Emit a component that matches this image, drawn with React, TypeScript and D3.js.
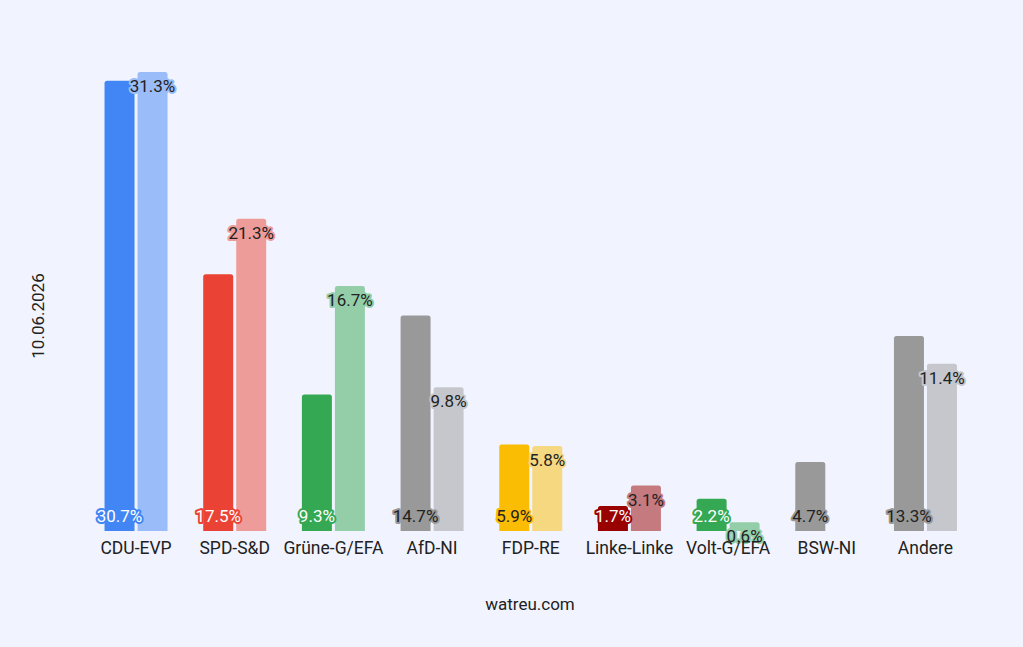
import React from "react";
import * as d3 from "d3";

const categories = ["CDU-EVP", "SPD-S&D", "Grüne-G/EFA", "AfD-NI", "FDP-RE", "Linke-Linke", "Volt-G/EFA", "BSW-NI", "Andere"];
const currentValues: (number | null)[] = [30.7, 17.5, 9.3, 14.7, 5.9, 1.7, 2.2, 4.7, 13.3];
const previousValues: (number | null)[] = [31.3, 21.3, 16.7, 9.8, 5.8, 3.1, 0.6, null, 11.4];
const colors = ["#4285f4", "#ea4335", "#34a853", "#999999", "#fbbc04", "#990000", "#34a853", "#999999", "#999999"];
const lightTextOnCurrent = [true, true, true, false, false, true, true, false, false];
const dateLabel = "10.06.2026";
const sourceLabel = "watreu.com";

const W = 1023;
const H = 647;
const BG = "#f1f4fe";

function blend(c: string, a: number) {
  const col = d3.rgb(c);
  const bg = d3.rgb(BG);
  return d3.rgb(col.r * a + bg.r * (1 - a), col.g * a + bg.g * (1 - a), col.b * a + bg.b * (1 - a)).formatHex();
}

export default function App() {
  const x = d3.scaleBand<string>().domain(categories).range([86.7, 974.8]).paddingInner(0).paddingOuter(0);
  const y = d3.scaleLinear().domain([0, 31.3]).range([531, 72]);
  const barW = 30;
  const gap = 3;
  const font = "Roboto, 'Noto Sans', sans-serif";
  const fmt = (v: number) => v.toFixed(1) + "%";

  return (
    <svg width={W} height={H} style={{ position: "fixed", left: 0, top: 0, background: BG }} fontFamily={font}>
      <rect x={0} y={0} width={W} height={H} fill={BG} />
      {categories.map((c, i) => {
        const cx = (x(c) as number) + x.bandwidth() / 2;
        const cur = currentValues[i];
        const prev = previousValues[i];
        const x1 = cx - gap / 2 - barW;
        const x2 = cx + gap / 2;
        const light = blend(colors[i], 0.5);
        return (
          <g key={c}>
            {cur != null && (
              <path d={roundTop(x1, y(cur), barW, y(0) - y(cur), 2.5)} fill={colors[i]} />
            )}
            {prev != null && (
              <path d={roundTop(x2, y(prev), barW, y(0) - y(prev), 2.5)} fill={light} />
            )}
          </g>
        );
      })}
      {categories.map((c, i) => {
        const cx = (x(c) as number) + x.bandwidth() / 2;
        const cur = currentValues[i];
        const prev = previousValues[i];
        const light = blend(colors[i], 0.5);
        const c1 = cx - gap / 2 - barW / 2;
        const c2 = cx + gap / 2 + barW / 2;
        return (
          <g key={c + "l"} textAnchor="middle" dominantBaseline="central">
            {cur != null && (
              <text
                x={c1}
                y={y(0) - 15}
                fontSize={17}
                fill={lightTextOnCurrent[i] ? "#ffffff" : "#222222"}
                stroke={colors[i]}
                strokeWidth={4}
                strokeLinejoin="round"
                paintOrder="stroke"
              >
                {fmt(cur)}
              </text>
            )}
            {prev != null && (
              <text
                x={c2}
                y={y(prev) + 14}
                fontSize={17}
                fill="#222222"
                stroke={light}
                strokeWidth={4}
                strokeLinejoin="round"
                paintOrder="stroke"
              >
                {fmt(prev)}
              </text>
            )}
          </g>
        );
      })}
      {categories.map((c, i) => {
        const cx = (x(c) as number) + x.bandwidth() / 2;
        return (
          <text key={c + "t"} x={cx} y={548} fontSize={17.5} fill="#222222" textAnchor="middle" dominantBaseline="central">
            {c}
          </text>
        );
      })}
      <text x={530} y={604} fontSize={17} fill="#222222" textAnchor="middle" dominantBaseline="central">
        {sourceLabel}
      </text>
      <text
        transform={`translate(38,316) rotate(-90)`}
        fontSize={17}
        fill="#222222"
        textAnchor="middle"
        dominantBaseline="central"
      >
        {dateLabel}
      </text>
    </svg>
  );
}

function roundTop(x: number, y: number, w: number, h: number, r: number) {
  const rr = Math.min(r, h / 2, w / 2);
  const p = d3.path();
  p.moveTo(x, y + h);
  p.lineTo(x, y + rr);
  p.arcTo(x, y, x + rr, y, rr);
  p.lineTo(x + w - rr, y);
  p.arcTo(x + w, y, x + w, y + rr, rr);
  p.lineTo(x + w, y + h);
  p.closePath();
  return p.toString();
}
